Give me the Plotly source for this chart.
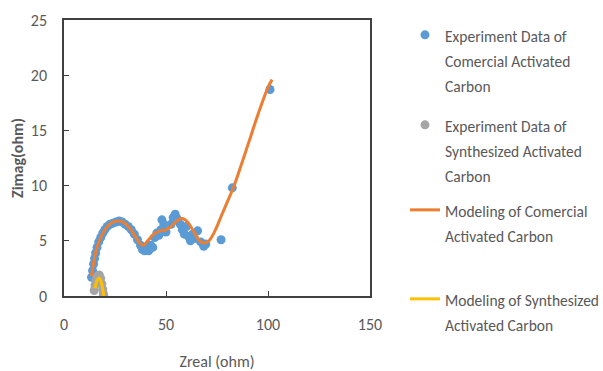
import plotly.graph_objects as go

# Commercial activated carbon - experimental
com_x = [13.5, 14.0, 14.5, 15.0, 15.5, 16.2, 17.0, 18.0, 19.0, 20.0, 21.2, 22.5, 24.0, 25.5, 27.0,
         28.5, 30.0, 31.5, 33.0, 34.5, 36.0, 37.5, 38.5, 39.5, 40.5, 41.5, 42.5, 43.5, 44.5, 45.5,
         46.5, 47.5, 48.0, 49.0, 50.0, 52.5, 53.5, 54.5, 55.5, 57.0, 58.0, 59.0, 60.0, 61.0, 62.0,
         63.0, 64.0, 65.5, 67.0, 68.5, 69.5, 77.0, 82.5, 101.0]
com_y = [1.7, 2.3, 2.9, 3.4, 3.9, 4.4, 4.9, 5.3, 5.7, 6.0, 6.3, 6.5, 6.6, 6.7, 6.8,
         6.7, 6.5, 6.3, 6.0, 5.6, 5.1, 4.6, 4.2, 4.1, 4.3, 4.1, 4.6, 4.4, 5.3, 5.7,
         5.5, 6.0, 6.9, 6.5, 5.8, 6.5, 7.1, 7.4, 7.0, 6.5, 6.0, 5.6, 6.3, 5.4, 5.0,
         5.6, 5.2, 5.9, 4.9, 4.5, 4.7, 5.1, 9.8, 18.7]

# Synthesized activated carbon - experimental
syn_x = [14.8, 15.2, 15.8, 16.5, 17.3, 18.0, 18.6, 19.0, 19.3, 19.5]
syn_y = [0.5, 1.0, 1.5, 1.8, 1.9, 1.6, 1.1, 0.6, 0.2, 0.0]

# Model - commercial
mod_com_x = [13.5, 14.5, 16, 18, 20, 23, 26, 29, 32, 35, 37.5, 39, 41, 44, 47, 50, 53, 56,
             58.5, 61, 64, 66.5, 68.5, 71, 74, 77, 80, 83, 90, 95, 100, 102]
mod_com_y = [1.8, 3.0, 4.3, 5.3, 6.0, 6.6, 6.8, 6.7, 6.2, 5.4, 4.7, 4.6, 5.0, 5.6, 5.9, 6.0,
             6.4, 6.9, 7.0, 6.6, 5.7, 5.0, 4.8, 5.0, 5.9, 7.2, 8.5, 9.8, 13.6, 16.4, 18.9, 19.6]

# Model - synthesized
mod_syn_x = [15.2, 15.8, 16.5, 17.2, 18.0, 18.7, 19.2, 19.5]
mod_syn_y = [0.7, 1.2, 1.5, 1.6, 1.4, 0.9, 0.4, 0.0]

FONT = "Carlito, Calibri, Lato, sans-serif"
GRAY = "#595959"

def lbl(t):
    return "<span style='font-size:15.5px'>" + t + "</span>"

fig = go.Figure()
fig.add_trace(go.Scatter(x=com_x, y=com_y, mode="markers",
                         marker=dict(color="#5B9BD5", size=9),
                         name=lbl("Experiment Data of<br>Comercial Activated<br>Carbon"),
                         legend="legend"))
fig.add_trace(go.Scatter(x=syn_x, y=syn_y, mode="markers",
                         marker=dict(color="#A5A5A5", size=9),
                         name=lbl("Experiment Data of<br>Synthesized Activated<br>Carbon"),
                         legend="legend2"))
fig.add_trace(go.Scatter(x=mod_com_x, y=mod_com_y, mode="lines",
                         line=dict(color="#ED7D31", width=3, shape="spline", smoothing=1.0),
                         name=lbl("Modeling of Comercial<br>Activated Carbon"),
                         legend="legend3"))
fig.add_trace(go.Scatter(x=mod_syn_x, y=mod_syn_y, mode="lines",
                         line=dict(color="#FFC000", width=3, shape="spline", smoothing=1.0),
                         name=lbl("Modeling of Synthesized<br>Activated Carbon"),
                         legend="legend4"))

L, R, T, B = 64, 370, 20, 296
W, H = 603, 371
def px(x): return (x - L) / (R - L)
def py(y): return (B - y) / (B - T)

leg_common = dict(xanchor="left", yanchor="top", valign="top",
                  font=dict(family=FONT, size=19, color=GRAY),
                  bgcolor="rgba(0,0,0,0)", itemwidth=30)

fig.update_layout(
    width=W, height=H,
    margin=dict(l=L, r=W - R, t=T, b=H - B, autoexpand=False),
    paper_bgcolor="white", plot_bgcolor="white",
    font=dict(family=FONT, color=GRAY),
    showlegend=True,
    legend=dict(x=px(405), y=py(16), **leg_common),
    legend2=dict(x=px(405), y=py(106), **leg_common),
    legend3=dict(x=px(405), y=py(191), **leg_common),
    legend4=dict(x=px(405), y=py(280), **leg_common),
    xaxis=dict(range=[0, 150], dtick=50, tick0=0, ticks="inside", ticklen=5,
               tickcolor="#404040", showline=True, linecolor="#404040", linewidth=1.5,
               mirror=True, showgrid=False, zeroline=False, automargin=False,
               tickfont=dict(family=FONT, size=16, color=GRAY), ticklabelstandoff=13,
               title=dict(text="Zreal (ohm)", font=dict(family=FONT, size=16, color=GRAY),
                          standoff=24)),
    yaxis=dict(range=[0, 25], dtick=5, tick0=0, ticks="inside", ticklen=5,
               tickcolor="#404040", showline=True, linecolor="#404040", linewidth=1.5,
               mirror=True, showgrid=False, zeroline=False, automargin=False,
               tickfont=dict(family=FONT, size=16, color=GRAY), ticklabelstandoff=12,
               title=dict(text="<b>Zimag(ohm)</b>", font=dict(family=FONT, size=16, color=GRAY),
                          standoff=3)),
)

fig.write_html("out.html", config={"displayModeBar": False},
               post_script="document.body.style.margin='0';")
